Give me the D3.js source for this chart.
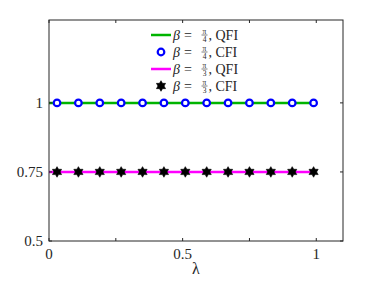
<!DOCTYPE html>
<html>
<head>
<meta charset="utf-8">
<script src="https://cdn.jsdelivr.net/npm/d3@7"></script>
<style>
  body { margin: 0; background: #fff; }
  svg text { font-family: "Liberation Serif", "Times New Roman", "DejaVu Serif", serif; fill: #262626; }
</style>
</head>
<body>
<svg id="chart" width="379" height="285"></svg>
<script>
// line data (lambda from 0 to 0.99)
const lambdaLine = [0, 0.99];
const qfiPi4 = [1, 1];
const qfiPi3 = [0.75, 0.75];

// marker data
const lambdaMarks = [0.03, 0.11, 0.19, 0.27, 0.35, 0.43, 0.51, 0.59, 0.67, 0.75, 0.83, 0.91, 0.99];
const cfiPi4 = [1, 1, 1, 1, 1, 1, 1, 1, 1, 1, 1, 1, 1];
const cfiPi3 = [0.75, 0.75, 0.75, 0.75, 0.75, 0.75, 0.75, 0.75, 0.75, 0.75, 0.75, 0.75, 0.75];

const xTicks = [0, 0.5, 1];
const xMinor = [0.25, 0.75];
const yTicks = [0.5, 0.75, 1];

const legendItems = [
    { num: "π", den: "4", tail: "QFI", kind: "line", color: "#00b400" },
    { num: "π", den: "4", tail: "CFI", kind: "circle", color: "#0000ff" },
    { num: "π", den: "3", tail: "QFI", kind: "line", color: "#ff00ff" },
    { num: "π", den: "3", tail: "CFI", kind: "star", color: "#000" }
];

let svg = d3.select("#chart");
let margin = { top: 20, right: 36, bottom: 44, left: 49 },
    width = +svg.attr("width") - margin.left - margin.right,
    height = +svg.attr("height") - margin.top - margin.bottom;

let x = d3.scaleLinear().domain([0, 1.1]).range([0, width]);
let y = d3.scaleLinear().domain([0.5, 1.3]).range([height, 0]);

let g = svg.append("g").attr("transform", "translate(" + margin.left + "," + margin.top + ")");

// hexagram path
function hexagram(R) {
    let pts = [];
    for (let k = 0; k < 12; k++) {
        let a = -Math.PI / 2 + k * Math.PI / 6;
        let r = k % 2 === 0 ? R : R / Math.sqrt(3);
        pts.push([r * Math.cos(a), r * Math.sin(a)]);
    }
    return "M" + pts.map(p => p.join(",")).join("L") + "Z";
}

let line = d3.line().x(d => x(d[0])).y(d => y(d[1]));

g.append("path").datum(d3.zip(lambdaLine, qfiPi4))
    .attr("d", line).attr("fill", "none").attr("stroke", "#00b400").attr("stroke-width", 2.5);
g.append("path").datum(d3.zip(lambdaLine, qfiPi3))
    .attr("d", line).attr("fill", "none").attr("stroke", "#ff00ff").attr("stroke-width", 2.5);

g.selectAll(".circ").data(d3.zip(lambdaMarks, cfiPi4)).enter()
    .append("circle")
    .attr("cx", d => x(d[0])).attr("cy", d => y(d[1])).attr("r", 3.3)
    .attr("fill", "#fff").attr("stroke", "#0000ff").attr("stroke-width", 2.2);

g.selectAll(".star").data(d3.zip(lambdaMarks, cfiPi3)).enter()
    .append("path")
    .attr("d", hexagram(5.3))
    .attr("transform", d => "translate(" + x(d[0]) + "," + y(d[1]) + ")")
    .attr("fill", "#000").attr("stroke", "#000").attr("stroke-width", 0.6);

// axes box and ticks
let axisColor = "#262626";
g.append("rect").attr("width", width).attr("height", height)
    .attr("fill", "none").attr("stroke", axisColor).attr("stroke-width", 1);

let tickLen = 3;
xTicks.concat(xMinor).forEach(t => {
    g.append("line").attr("x1", x(t)).attr("x2", x(t)).attr("y1", height).attr("y2", height - tickLen)
        .attr("stroke", axisColor);
    g.append("line").attr("x1", x(t)).attr("x2", x(t)).attr("y1", 0).attr("y2", tickLen)
        .attr("stroke", axisColor);
});
yTicks.forEach(t => {
    g.append("line").attr("x1", 0).attr("x2", tickLen).attr("y1", y(t)).attr("y2", y(t))
        .attr("stroke", axisColor);
    g.append("line").attr("x1", width).attr("x2", width - tickLen).attr("y1", y(t)).attr("y2", y(t))
        .attr("stroke", axisColor);
});

g.selectAll(".xl").data(xTicks).enter().append("text")
    .attr("x", d => x(d)).attr("y", height + 18)
    .attr("text-anchor", "middle").attr("font-size", 15)
    .text(d => d3.format("")(d));
g.selectAll(".yl").data(yTicks).enter().append("text")
    .attr("x", -6).attr("y", d => y(d) + 5)
    .attr("text-anchor", "end").attr("font-size", 15)
    .text(d => d3.format("")(d));

g.append("text").attr("x", x(0.55)).attr("y", height + 33)
    .attr("text-anchor", "middle").attr("font-size", 16)
    .text("λ");

// legend
let legend = svg.append("g");
let rowY = [35, 52, 69, 86];
legendItems.forEach((d, i) => {
    let cy = rowY[i];
    let row = legend.append("g").attr("transform", "translate(0," + cy + ")");
    if (d.kind === "line") {
        row.append("line").attr("x1", 151).attr("x2", 171).attr("y1", 0).attr("y2", 0)
            .attr("stroke", d.color).attr("stroke-width", 2.5);
    } else if (d.kind === "circle") {
        row.append("circle").attr("cx", 161).attr("cy", 0).attr("r", 3.3)
            .attr("fill", "#fff").attr("stroke", d.color).attr("stroke-width", 2.2);
    } else {
        row.append("path").attr("d", hexagram(5.3)).attr("transform", "translate(161,0)")
            .attr("fill", "#000").attr("stroke", "#000").attr("stroke-width", 0.6);
    }
    let fs = 14;
    row.append("text").attr("x", 173).attr("y", 4.5).attr("font-size", fs)
        .attr("font-style", "italic").text("β");
    row.append("text").attr("x", 184).attr("y", 4.5).attr("font-size", fs).text("=");
    // small fraction
    row.append("text").attr("x", 204.5).attr("y", -1.4).attr("font-size", 7.5)
        .attr("text-anchor", "middle").text(d.num);
    row.append("line").attr("x1", 201.5).attr("x2", 207.5).attr("y1", 0).attr("y2", 0)
        .attr("stroke", "#262626").attr("stroke-width", 0.6);
    row.append("text").attr("x", 204.5).attr("y", 7).attr("font-size", 7.5)
        .attr("text-anchor", "middle").text(d.den);
    row.append("text").attr("x", 208.5).attr("y", 4.5).attr("font-size", fs).text(", " + d.tail);
});
</script>
</body>
</html>
